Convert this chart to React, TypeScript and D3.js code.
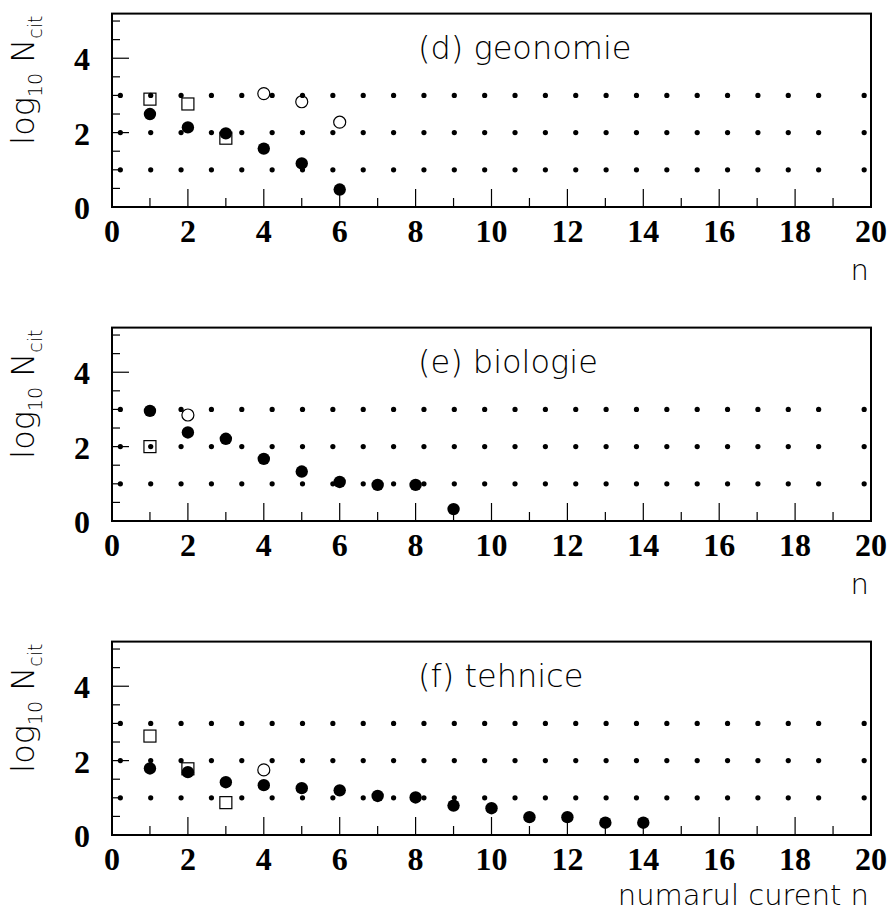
import React from 'react'
import * as d3 from 'd3'

// x = numarul curent n, y = log10 Ncit
const xTicks = d3.range(0, 21, 2)
const xMinor = d3.range(1, 20, 2)
const yTicks = [0, 2, 4]
const yMinor = [0.5, 1, 1.5, 2.5, 3, 3.5, 4.5, 5]
const gridLevels = [1, 2, 3]

// (d) geonomie
const geoFilledN = [1, 2, 3, 4, 5, 6]
const geoFilled = [2.5, 2.14, 1.98, 1.57, 1.17, 0.47]
const geoSquareN = [1, 2, 3]
const geoSquare = [2.9, 2.77, 1.85]
const geoOpenN = [4, 5, 6]
const geoOpen = [3.05, 2.83, 2.28]

// (e) biologie
const bioFilledN = [1, 2, 3, 4, 5, 6, 7, 8, 9]
const bioFilled = [2.96, 2.38, 2.21, 1.67, 1.33, 1.05, 0.97, 0.97, 0.32]
const bioSquareN = [1]
const bioSquare = [2.0]
const bioOpenN = [2]
const bioOpen = [2.85]

// (f) tehnice
const tehFilledN = [1, 2, 3, 4, 5, 6, 7, 8, 9, 10, 11, 12, 13, 14]
const tehFilled = [1.79, 1.69, 1.42, 1.34, 1.26, 1.2, 1.05, 1.01, 0.79, 0.72, 0.48, 0.48, 0.33, 0.33]
const tehSquareN = [1, 2, 3]
const tehSquare = [2.66, 1.78, 0.87]
const tehOpenN = [4]
const tehOpen = [1.75]

const panels = [
  { title: '(d) geonomie', xTitle: 'n', y0: 207, titleDy: 73,
    filledN: geoFilledN, filled: geoFilled, squareN: geoSquareN, square: geoSquare, openN: geoOpenN, open: geoOpen },
  { title: '(e) biologie', xTitle: 'n', y0: 521, titleDy: 73,
    filledN: bioFilledN, filled: bioFilled, squareN: bioSquareN, square: bioSquare, openN: bioOpenN, open: bioOpen },
  { title: '(f) tehnice', xTitle: 'numarul curent n', y0: 835, titleDy: 70,
    filledN: tehFilledN, filled: tehFilled, squareN: tehSquareN, square: tehSquare, openN: tehOpenN, open: tehOpen },
]

const W = 890
const H = 911
const left = 112
const right = 871
const yMax = 5.2
const plotH = 193.4
const labelFont = '"Liberation Serif", "Times New Roman", serif'
const textFont = '"DejaVu Sans", sans-serif'

const xScale = d3.scaleLinear().domain([0, 20]).range([left, right])

const Panel = ({ p }: { p: any }) => {
  const yScale = d3.scaleLinear().domain([0, yMax]).range([p.y0, p.y0 - plotH])
  const top = yScale(yMax)
  // dotted grid: dots every 0.8 units starting at 0.22, plus one at the end
  const dotX = d3.range(0.22, 19.4, 0.8).concat([19.82])
  return (
    <g>
      {/* grid dots */}
      {gridLevels.map((lv) =>
        dotX.map((dx, i) => (
          <circle key={'g' + lv + '-' + i} cx={xScale(dx)} cy={yScale(lv)} r={2.6} fill="#000" />
        ))
      )}

      {/* ticks */}
      {xTicks.map((t) => (
        <line key={'xt' + t} x1={xScale(t)} x2={xScale(t)} y1={p.y0} y2={p.y0 - 18} stroke="#000" strokeWidth={1.2} />
      ))}
      {xMinor.map((t) => (
        <line key={'xm' + t} x1={xScale(t)} x2={xScale(t)} y1={p.y0} y2={p.y0 - 9} stroke="#000" strokeWidth={1.2} />
      ))}
      {yTicks.map((t) => (
        <line key={'yt' + t} x1={left} x2={left + 17} y1={yScale(t)} y2={yScale(t)} stroke="#000" strokeWidth={1.2} />
      ))}
      {yMinor.map((t) => (
        <line key={'ym' + t} x1={left} x2={left + 8} y1={yScale(t)} y2={yScale(t)} stroke="#000" strokeWidth={1.2} />
      ))}

      {/* markers */}
      {p.square.map((v: number, i: number) => (
        <rect key={'s' + i} x={xScale(p.squareN[i]) - 6} y={yScale(v) - 6} width={12} height={12}
          fill="none" stroke="#000" strokeWidth={1.2} />
      ))}
      {p.open.map((v: number, i: number) => (
        <circle key={'o' + i} cx={xScale(p.openN[i])} cy={yScale(v)} r={6} fill="none" stroke="#000" strokeWidth={1.2} />
      ))}
      {p.filled.map((v: number, i: number) => (
        <circle key={'f' + i} cx={xScale(p.filledN[i])} cy={yScale(v)} r={6.2} fill="#000" />
      ))}

      {/* frame */}
      <rect x={left} y={top} width={right - left} height={p.y0 - top} fill="none" stroke="#000" strokeWidth={2} />

      {/* tick labels */}
      {xTicks.map((t) => (
        <text key={'xl' + t} x={xScale(t)} y={p.y0 + 35} textAnchor="middle"
          fontFamily={labelFont} fontWeight={700} fontSize={32}>{t}</text>
      ))}
      {yTicks.map((t) => (
        <text key={'yl' + t} x={90} y={yScale(t) + 12} textAnchor="end"
          fontFamily={labelFont} fontWeight={700} fontSize={32}>{t}</text>
      ))}

      {/* titles */}
      <text x={418} y={top + 45} fontFamily={textFont} fontWeight={300} fontSize={32}>{p.title}</text>
      <text x={869} y={p.y0 + p.titleDy} textAnchor="end" fontFamily={textFont} fontWeight={300} fontSize={29}>{p.xTitle}</text>
      <text transform={`translate(34,${top + 2}) rotate(-90)`} textAnchor="end"
        fontFamily={textFont} fontWeight={300} fontSize={32}>
        log<tspan fontSize={19} dy={8}>10</tspan><tspan dy={-8}> N</tspan><tspan fontSize={19} dy={8}>cit</tspan>
      </text>
    </g>
  )
}

const App = () => {
  return (
    <svg width={W} height={H} style={{ position: 'absolute', left: 0, top: 0, background: '#fff' }}>
      <rect width={W} height={H} fill="#fff" />
      {panels.map((p) => (
        <Panel key={p.title} p={p} />
      ))}
    </svg>
  )
}

export default App
